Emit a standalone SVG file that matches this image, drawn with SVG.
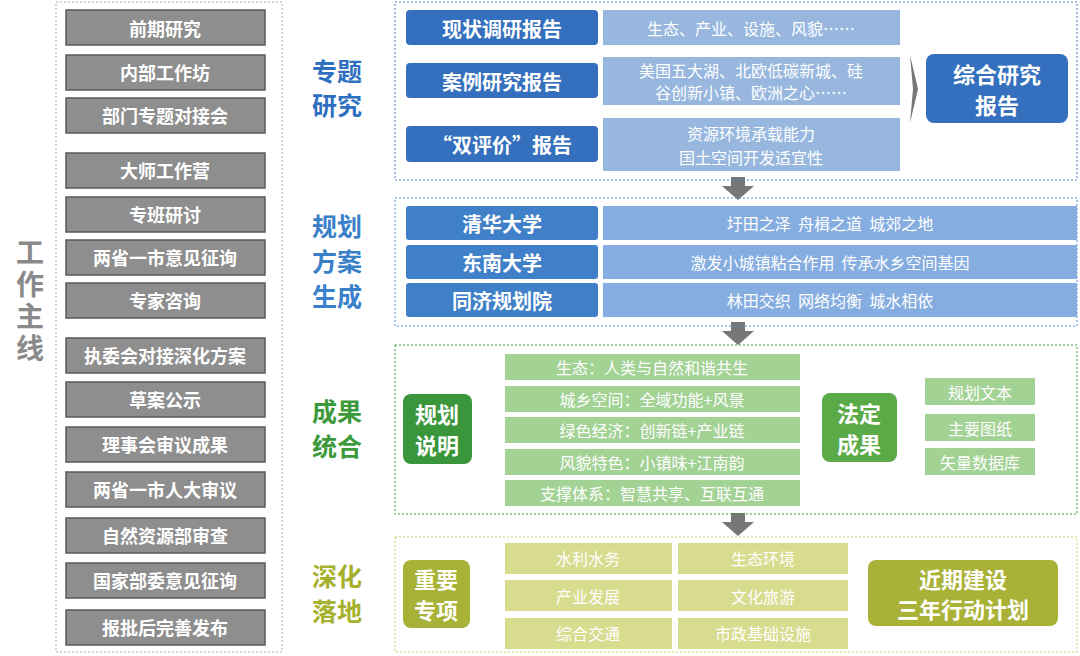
<svg xmlns="http://www.w3.org/2000/svg" width="1080" height="656" viewBox="0 0 1080 656">
<style>
text{font-family:"Noto Sans CJK SC","Noto Sans",sans-serif;text-anchor:middle;dominant-baseline:central}
.g rect{fill:#8e8e8e;stroke:#5a5a5a;stroke-width:1.5}
.g text{fill:#fff;font-size:18px;font-weight:bold}
.db{fill:#3470bd}
.lb{fill:#97b7df}
.lb2{fill:#85ade0}
.w{fill:#fff;font-weight:bold}
.lt{fill:#fff;font-size:16px}
.sec{font-size:25px;font-weight:bold}
</style>
<rect width="1080" height="656" fill="#fff"/>
<rect x="56" y="2" width="226" height="650" fill="none" stroke="#aaa" stroke-dasharray="2,2"/>
<text x="30" y="302" font-size="28" fill="#8a8a8a" font-weight="bold" style="writing-mode:vertical-rl;letter-spacing:4px">工作主线</text>
<g class="g" id="left">
<rect x="66" y="10" width="199" height="35"/><text x="165" y="28">前期研究</text>
<rect x="66" y="55" width="199" height="35"/><text x="165" y="72">内部工作坊</text>
<rect x="66" y="98" width="199" height="35"/><text x="165" y="115">部门专题对接会</text>
<rect x="66" y="153" width="199" height="35"/><text x="165" y="170">大师工作营</text>
<rect x="66" y="197" width="199" height="35"/><text x="165" y="214">专班研讨</text>
<rect x="66" y="240" width="199" height="35"/><text x="165" y="257">两省一市意见征询</text>
<rect x="66" y="283" width="199" height="35"/><text x="165" y="300">专家咨询</text>
<rect x="66" y="338" width="199" height="35"/><text x="165" y="355">执委会对接深化方案</text>
<rect x="66" y="382" width="199" height="35"/><text x="165" y="399">草案公示</text>
<rect x="66" y="427" width="199" height="35"/><text x="165" y="444">理事会审议成果</text>
<rect x="66" y="472" width="199" height="35"/><text x="165" y="489">两省一市人大审议</text>
<rect x="66" y="518" width="199" height="35"/><text x="165" y="535">自然资源部审查</text>
<rect x="66" y="563" width="199" height="35"/><text x="165" y="580">国家部委意见征询</text>
<rect x="66" y="610" width="199" height="35"/><text x="165" y="627">报批后完善发布</text>
</g>
<g id="labels" class="sec">
<text x="337" y="70" fill="#2f6fbf">专题</text><text x="337" y="104" fill="#2f6fbf">研究</text>
<text x="337" y="225" fill="#3a80c9">规划</text><text x="337" y="260" fill="#3a80c9">方案</text><text x="337" y="295" fill="#3a80c9">生成</text>
<text x="337" y="410" fill="#3c9a3c">成果</text><text x="337" y="445" fill="#3c9a3c">统合</text>
<text x="337" y="575" fill="#a5b12c">深化</text><text x="337" y="610" fill="#a5b12c">落地</text>
</g>
<g id="connectors" fill="#777">
<path d="M731 177h14v9h9l-16 14l-16-14h9z"/>
<path d="M731 322h14v9h9l-16 14l-16-14h9z"/>
<path d="M731 513h14v9h9l-16 14l-16-14h9z"/>
<path d="M910 55l8 34l-8 34l3-34z"/>
</g>
<g id="sec1">
<rect x="395" y="2" width="682" height="178" fill="none" stroke="#4a7fc4" stroke-dasharray="2,2"/>
<rect class="db" x="406" y="10" width="192" height="35" rx="4"/><text class="w" x="502" y="28" font-size="20">现状调研报告</text>
<rect class="db" x="406" y="63" width="192" height="35" rx="4"/><text class="w" x="502" y="81" font-size="20">案例研究报告</text>
<rect class="db" x="406" y="126" width="192" height="36" rx="4"/><text class="w" x="502" y="144" font-size="20">“双评价”报告</text>
<rect class="lb" x="603" y="10" width="297" height="35"/><text class="lt" x="751" y="28">生态、产业、设施、风貌……</text>
<rect class="lb" x="603" y="57" width="297" height="48"/><text class="lt" x="751" y="70">美国五大湖、北欧低碳新城、硅</text><text class="lt" x="751" y="92">谷创新小镇、欧洲之心……</text>
<rect class="lb" x="603" y="118" width="297" height="53"/><text class="lt" x="751" y="133">资源环境承载能力</text><text class="lt" x="751" y="157">国土空间开发适宜性</text>
<rect class="db" x="926" y="54" width="142" height="69" rx="8"/><text class="w" x="997" y="73" font-size="22">综合研究</text><text class="w" x="997" y="104" font-size="22">报告</text>
</g>
<g id="sec2">
<rect x="395" y="198" width="682" height="128" fill="none" stroke="#4a8fd4" stroke-dasharray="2,2"/>
<rect x="406" y="206" width="192" height="34" rx="3" fill="#3f80c8"/><text class="w" x="502" y="223" font-size="20">清华大学</text>
<rect x="406" y="245" width="192" height="34" rx="3" fill="#3f80c8"/><text class="w" x="502" y="262" font-size="20">东南大学</text>
<rect x="406" y="283" width="192" height="34" rx="3" fill="#3f80c8"/><text class="w" x="502" y="300" font-size="20">同济规划院</text>
<rect class="lb2" x="603" y="206" width="474" height="34"/><text class="lt" x="830" y="223" xml:space="preserve">圩田之泽  舟楫之道  城郊之地</text>
<rect class="lb2" x="603" y="245" width="474" height="34"/><text class="lt" x="830" y="262" xml:space="preserve">激发小城镇粘合作用  传承水乡空间基因</text>
<rect class="lb2" x="603" y="283" width="474" height="34"/><text class="lt" x="830" y="300" xml:space="preserve">林田交织  网络均衡  城水相依</text>
</g>
<g id="sec3">
<rect x="395" y="345" width="682" height="169" fill="none" stroke="#3c9a3c" stroke-dasharray="2,2"/>
<rect x="403" y="394" width="69" height="70" rx="8" fill="#3a963a"/><text class="w" x="437" y="413" font-size="22">规划</text><text class="w" x="437" y="444" font-size="22">说明</text>
<g fill="#a3d295">
<rect x="505" y="354" width="295" height="26"/><rect x="505" y="386" width="295" height="26"/><rect x="505" y="417" width="295" height="26"/><rect x="505" y="449" width="295" height="26"/><rect x="505" y="480" width="295" height="26"/>
</g>
<text class="lt" x="652" y="367">生态：人类与自然和谐共生</text>
<text class="lt" x="652" y="399">城乡空间：全域功能+风景</text>
<text class="lt" x="652" y="430">绿色经济：创新链+产业链</text>
<text class="lt" x="652" y="462">风貌特色：小镇味+江南韵</text>
<text class="lt" x="652" y="493">支撑体系：智慧共享、互联互通</text>
<rect x="822" y="393" width="75" height="69" rx="8" fill="#5aaa48"/><text class="w" x="859" y="412" font-size="22">法定</text><text class="w" x="859" y="443" font-size="22">成果</text>
<g fill="#a3d295"><rect x="925" y="378" width="110" height="27"/><rect x="925" y="414" width="110" height="27"/><rect x="925" y="448" width="110" height="27"/></g>
<text class="lt" x="980" y="392">规划文本</text><text class="lt" x="980" y="428">主要图纸</text><text class="lt" x="980" y="462">矢量数据库</text>
</g>
<g id="sec4">
<rect x="395" y="537" width="682" height="115" fill="none" stroke="#c8cf6a" stroke-dasharray="2,2"/>
<rect x="403" y="560" width="67" height="68" rx="8" fill="#a7b236"/><text class="w" x="436" y="578" font-size="22">重要</text><text class="w" x="436" y="609" font-size="22">专项</text>
<g fill="#d8dc8e">
<rect x="505" y="543" width="167" height="31"/><rect x="678" y="543" width="170" height="31"/>
<rect x="505" y="580" width="167" height="31"/><rect x="678" y="580" width="170" height="31"/>
<rect x="505" y="618" width="167" height="31"/><rect x="678" y="618" width="170" height="31"/>
</g>
<text class="lt" x="588" y="558">水利水务</text><text class="lt" x="763" y="558">生态环境</text>
<text class="lt" x="588" y="596">产业发展</text><text class="lt" x="763" y="596">文化旅游</text>
<text class="lt" x="588" y="633">综合交通</text><text class="lt" x="763" y="633">市政基础设施</text>
<rect x="868" y="560" width="190" height="66" rx="8" fill="#a9b236"/><text class="w" x="963" y="578" font-size="22">近期建设</text><text class="w" x="963" y="608" font-size="22">三年行动计划</text>
</g>
</svg>
